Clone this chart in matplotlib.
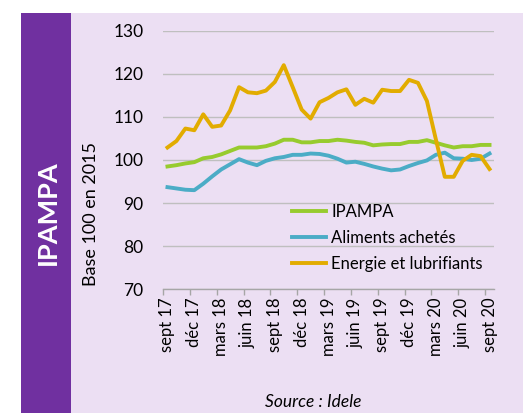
# ==========================================================
# IPAMPA price indices, sept 2017 - sept 2020
# ==========================================================

import matplotlib
matplotlib.use("Agg")

import matplotlib.pyplot as plt
from matplotlib.patches import Rectangle


# ==========================================================
# Data (base 100 en 2015, one value per month)
# ==========================================================

tick_labels = [
    "sept 17", "déc 17", "mars 18", "juin 18", "sept 18", "déc 18",
    "mars 19", "juin 19", "sept 19", "déc 19", "mars 20", "juin 20", "sept 20",
]

ipampa = [
    98.5, 98.8, 99.2, 99.5, 100.4, 100.7, 101.3, 102.1, 102.9, 102.9,
    102.9, 103.2, 103.8, 104.7, 104.7, 104.1, 104.1, 104.4, 104.4, 104.7,
    104.5, 104.2, 104.0, 103.4, 103.6, 103.7, 103.7, 104.2, 104.2, 104.6,
    104.0, 103.4, 102.9, 103.2, 103.2, 103.5, 103.5,
]

aliments = [
    93.7, 93.4, 93.1, 93.0, 94.5, 96.2, 97.8, 99.0, 100.2, 99.4,
    98.8, 99.8, 100.4, 100.7, 101.2, 101.2, 101.5, 101.4, 101.0, 100.3,
    99.4, 99.6, 99.1, 98.5, 98.0, 97.6, 97.8, 98.6, 99.3, 99.9,
    101.2, 101.7, 100.4, 100.3, 100.0, 100.3, 101.5,
]

energie = [
    102.9, 104.4, 107.3, 106.9, 110.6, 107.7, 108.0, 111.5, 116.9, 115.7,
    115.5, 116.1, 118.1, 122.0, 116.9, 111.7, 109.6, 113.4, 114.4, 115.7,
    116.4, 112.8, 114.2, 113.3, 116.3, 116.0, 116.0, 118.6, 117.9, 113.7,
    104.8, 96.1, 96.1, 99.8, 101.2, 100.9, 97.9,
]

series = [
    ("IPAMPA", ipampa, "#97CB2E"),
    ("Aliments achetés", aliments, "#4BACC6"),
    ("Energie et lubrifiants", energie, "#E2AC00"),
]


# ==========================================================
# Figure and coloured bands
# ==========================================================

plt.rcParams["font.family"] = ["Lato", "DejaVu Sans"]

fig = plt.figure(figsize=(5.25, 4.13), dpi=100)

fig.patches.append(Rectangle(
    (21 / 525, 0), 502 / 525, 400 / 413,
    transform=fig.transFigure, facecolor="#ECDFF3", edgecolor="none", zorder=-2
))

fig.patches.append(Rectangle(
    (21 / 525, 0), 50 / 525, 400 / 413,
    transform=fig.transFigure, facecolor="#7030A0", edgecolor="none", zorder=-1
))

fig.text(
    48 / 525, 1 - 213 / 413, "IPAMPA",
    rotation=90, ha="center", va="center",
    color="white", fontsize=19.5, fontweight="bold"
)

fig.text(
    91 / 525, 1 - 214 / 413, "Base 100 en 2015",
    rotation=90, ha="center", va="center", fontsize=13
)

fig.text(
    313 / 525, 1 - 402 / 413, "Source : Idele",
    ha="center", va="center", fontsize=12.5, fontstyle="italic"
)


# ==========================================================
# Line chart
# ==========================================================

ax = fig.add_axes([163 / 525, 1 - 289.3 / 413, 331 / 525, 258.6 / 413])
ax.set_facecolor("none")

months = list(range(len(ipampa)))

for label, values, color in series:
    ax.plot(months, values, label=label, color=color, linewidth=2.8,
            solid_joinstyle="round", zorder=3)

ax.set_ylim(70, 130)
ax.set_yticks(range(70, 131, 10))
ax.set_xlim(-0.5, len(months) - 0.5)

ax.set_xticks(months[::3])
ax.set_xticklabels(tick_labels, rotation=90, fontsize=12)
ax.set_xticks([m - 0.5 for m in months[::3]], minor=True)

ax.tick_params(axis="x", which="major", length=0, pad=6)
ax.tick_params(axis="x", which="minor", length=4, color="#A6A6A6", width=1)
ax.tick_params(axis="y", length=0, labelsize=12.5, pad=14)

ax.grid(axis="y", color="#BFBFBF", linewidth=1)
ax.set_axisbelow(True)

for side in ["left", "right", "top"]:
    ax.spines[side].set_visible(False)
ax.spines["bottom"].set_color("#A6A6A6")
ax.spines["bottom"].set_linewidth(1)

ax.legend(
    loc="upper left",
    bbox_to_anchor=(292 / 525, 1 - 204 / 413),
    bbox_transform=fig.transFigure,
    frameon=False, fontsize=12,
    handlelength=2.05, handletextpad=0.3,
    labelspacing=0.6, borderpad=0, borderaxespad=0
)

plt.savefig("out.png", dpi=100)
plt.close()
